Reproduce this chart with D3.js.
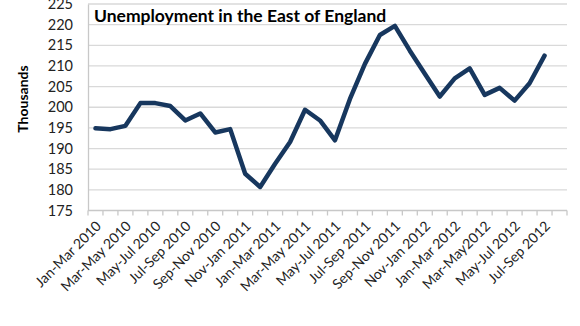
<!DOCTYPE html>
<html>
<head>
<meta charset="utf-8">
<script src="https://cdn.jsdelivr.net/npm/d3@7"></script>
<style>
  html, body { margin: 0; padding: 0; background: #fff; }
  svg { display: block; font-family: Lato, "Open Sans", sans-serif; }
</style>
</head>
<body>
<svg id="chart" width="580" height="326"></svg>
<script>
// Rolling three-month periods, Jan-Mar 2010 to Aug-Oct 2012
const periods = [
  "Jan-Mar 2010", "Feb-Apr 2010", "Mar-May 2010", "Apr-Jun 2010", "May-Jul 2010",
  "Jun-Aug 2010", "Jul-Sep 2010", "Aug-Oct 2010", "Sep-Nov 2010", "Oct-Dec 2010",
  "Nov-Jan 2011", "Dec-Feb 2011", "Jan-Mar 2011", "Feb-Apr 2011", "Mar-May 2011",
  "Apr-Jun 2011", "May-Jul 2011", "Jun-Aug 2011", "Jul-Sep 2011", "Aug-Oct 2011",
  "Sep-Nov 2011", "Oct-Dec 2011", "Nov-Jan 2012", "Dec-Feb 2012", "Jan-Mar 2012",
  "Feb-Apr 2012", "Mar-May2012", "Apr-Jun 2012", "May-Jul 2012", "Jun-Aug 2012",
  "Jul-Sep 2012", "Aug-Oct 2012"
];

// Unemployed people, thousands (last period not yet published)
const unemployed = [
  194.9, 194.7, 195.5, 201.0, 201.0, 200.3, 196.8, 198.5, 193.9, 194.7,
  183.9, 180.7, 186.3, 191.6, 199.4, 196.8, 192.0, 202.0, 210.5, 217.5,
  219.7, 213.7, 208.1, 202.6, 207.0, 209.4, 203.0, 204.7, 201.6, 205.8,
  212.5, null
];

const yTicks = [175, 180, 185, 190, 195, 200, 205, 210, 215, 220, 225];

const svg = d3.select("#chart");
const plot = { left: 88, right: 567, top: 4, bottom: 210.5 };

const x = d3.scaleBand().domain(periods).range([plot.left, plot.right]);
const y = d3.scaleLinear().domain([175, 225]).range([plot.bottom, plot.top]);

// horizontal gridlines
svg.append("g")
  .selectAll("line")
  .data(yTicks.filter(t => t > 175))
  .join("line")
  .attr("x1", plot.left).attr("x2", plot.right)
  .attr("y1", d => y(d)).attr("y2", d => y(d))
  .attr("stroke", "#d9d9d9").attr("stroke-width", 1.3);

// y axis
const yAxis = svg.append("g")
  .attr("transform", `translate(${plot.left},0)`)
  .call(d3.axisLeft(y).tickValues(yTicks).tickSize(0).tickPadding(15));
yAxis.select(".domain").attr("stroke", "#c8c8c8").attr("stroke-width", 1.3);
yAxis.selectAll("text")
  .attr("font-size", 14.5).attr("fill", "#222")
  .attr("font-family", "Lato, sans-serif");

// x axis: tick marks at category boundaries, labels on every other period
const xAxis = svg.append("g").attr("transform", `translate(0,${plot.bottom})`);
xAxis.append("line")
  .attr("x1", plot.left).attr("x2", plot.right)
  .attr("stroke", "#c8c8c8").attr("stroke-width", 1.3);
xAxis.selectAll("line.tick")
  .data(periods.map(p => x(p)).concat([plot.right]))
  .join("line")
  .attr("class", "tick")
  .attr("x1", d => d).attr("x2", d => d)
  .attr("y1", 0).attr("y2", 5)
  .attr("stroke", "#c8c8c8").attr("stroke-width", 1.3);
xAxis.selectAll("text")
  .data(periods.filter((p, i) => i % 2 === 0))
  .join("text")
  .attr("transform", d => `translate(${x(d) + x.bandwidth() / 2 + 3},13) rotate(-45)`)
  .attr("text-anchor", "end")
  .attr("dy", "0.35em")
  .attr("font-size", 14)
  .attr("fill", "#222")
  .text(d => d);

// the series line
const line = d3.line()
  .defined(d => d.v !== null)
  .x(d => x(d.p) + x.bandwidth() / 2)
  .y(d => y(d.v));

svg.append("path")
  .datum(periods.map((p, i) => ({ p, v: unemployed[i] })))
  .attr("d", line)
  .attr("fill", "none")
  .attr("stroke", "#17375e")
  .attr("stroke-width", 4.5)
  .attr("stroke-linejoin", "round")
  .attr("stroke-linecap", "round");

// title
svg.append("text")
  .attr("x", 94).attr("y", 22)
  .attr("font-size", 17.5).attr("font-weight", "bold")
  .attr("fill", "#000")
  .text("Unemployment in the East of England");

// axis title
svg.append("text")
  .attr("transform", "translate(28,99) rotate(-90)")
  .attr("text-anchor", "middle")
  .attr("font-size", 14).attr("font-weight", "bold")
  .attr("fill", "#000")
  .text("Thousands");
</script>
</body>
</html>
